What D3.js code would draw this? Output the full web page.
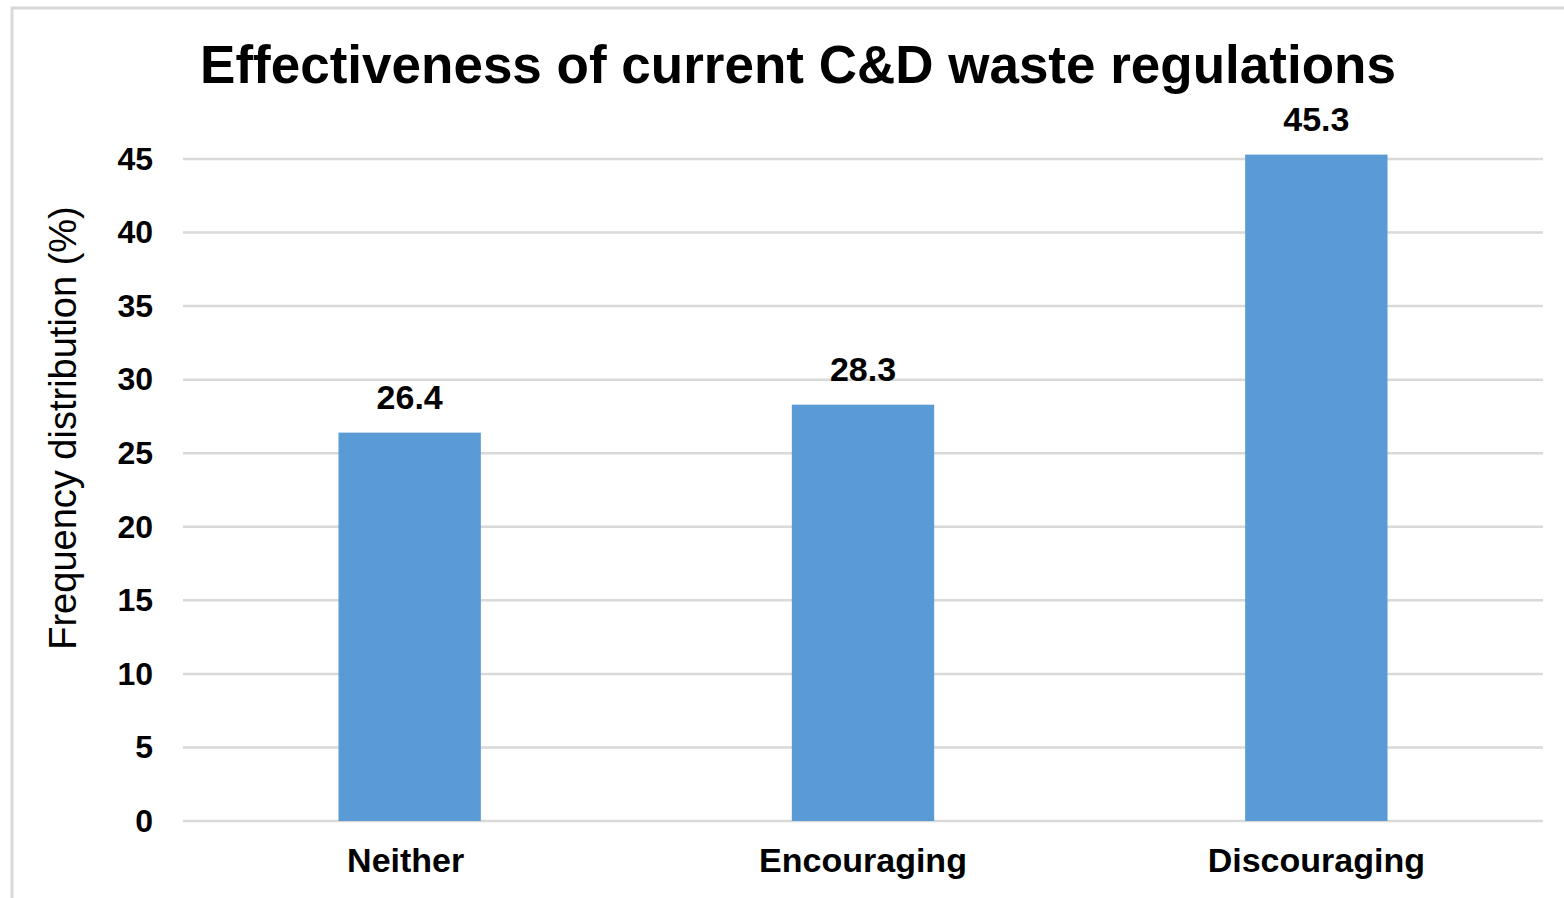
<!DOCTYPE html>
<html>
<head>
<meta charset="utf-8">
<script src="https://cdn.jsdelivr.net/npm/d3@7"></script>
<style>
  body { margin: 0; background: #fff; }
  text { font-family: "Liberation Sans", Arial, sans-serif; fill: #000; }
</style>
</head>
<body>
<div class="chart"></div>
<script>
var svgWidth = 1564;
var svgHeight = 898;

// data
var categories = ["Neither", "Encouraging", "Discouraging"];
var values = [26.4, 28.3, 45.3];
var yTicks = [0, 5, 10, 15, 20, 25, 30, 35, 40, 45];

var margin = { top: 159, right: 21, bottom: 77, left: 183 };
var width = svgWidth - margin.left - margin.right;
var height = svgHeight - margin.top - margin.bottom;

var svg = d3.select(".chart")
  .append("svg")
  .attr("width", svgWidth)
  .attr("height", svgHeight);

// chart frame (runs off the right and bottom edge like the original)
svg.append("rect")
  .attr("x", 12)
  .attr("y", 8)
  .attr("width", svgWidth + 20)
  .attr("height", svgHeight + 20)
  .attr("fill", "none")
  .attr("stroke", "#d9d9d9")
  .attr("stroke-width", 3);

var chartGroup = svg.append("g")
  .attr("transform", `translate(${margin.left}, ${margin.top})`);

var xScale = d3.scaleBand()
  .domain(categories)
  .range([0, width])
  .paddingInner(0.686)
  .paddingOuter(0.343);

var yScale = d3.scaleLinear()
  .domain([0, 45])
  .range([height, 0]);

// gridlines
chartGroup.append("g")
  .selectAll("line")
  .data(yTicks)
  .enter()
  .append("line")
  .attr("x1", 0)
  .attr("x2", width)
  .attr("y1", d => yScale(d))
  .attr("y2", d => yScale(d))
  .attr("stroke", "#d9d9d9")
  .attr("stroke-width", 2.5);

// y axis labels
var leftAxis = d3.axisLeft(yScale).tickValues(yTicks).tickSize(0).tickPadding(30);
var yAxis = chartGroup.append("g").call(leftAxis);
yAxis.select(".domain").remove();
yAxis.selectAll("text")
  .style("font-size", "32px")
  .style("font-weight", "bold")
  .attr("font-family", null);

// x axis labels
var bottomAxis = d3.axisBottom(xScale).tickSize(0).tickPadding(27);
var xAxis = chartGroup.append("g")
  .attr("transform", `translate(0, ${height})`)
  .call(bottomAxis);
xAxis.select(".domain").remove();
xAxis.selectAll("text")
  .style("font-size", "34px")
  .style("font-weight", "bold")
  .attr("font-family", null);
// first label sits a little left of its bar in the original
xAxis.selectAll("text").filter(d => d === "Neither").attr("dx", -4);

// bars
chartGroup.selectAll("rect.bar")
  .data(values)
  .enter()
  .append("rect")
  .attr("class", "bar")
  .attr("x", (d, i) => xScale(categories[i]))
  .attr("width", xScale.bandwidth())
  .attr("y", d => yScale(d))
  .attr("height", d => height - yScale(d))
  .attr("fill", "#5b9bd5");

// value labels
chartGroup.selectAll("text.value")
  .data(values)
  .enter()
  .append("text")
  .attr("class", "value")
  .attr("x", (d, i) => xScale(categories[i]) + xScale.bandwidth() / 2)
  .attr("y", d => yScale(d) - 24)
  .attr("text-anchor", "middle")
  .style("font-size", "34px")
  .style("font-weight", "bold")
  .text(d => d.toFixed(1));

// title
svg.append("text")
  .attr("x", 798)
  .attr("y", 83)
  .attr("text-anchor", "middle")
  .style("font-size", "53px")
  .style("font-weight", "bold")
  .text("Effectiveness of current C&D waste regulations");

// y axis title
svg.append("text")
  .attr("transform", "rotate(-90)")
  .attr("x", -428)
  .attr("y", 76)
  .attr("text-anchor", "middle")
  .style("font-size", "38px")
  .text("Frequency distribution (%)");
</script>
</body>
</html>
